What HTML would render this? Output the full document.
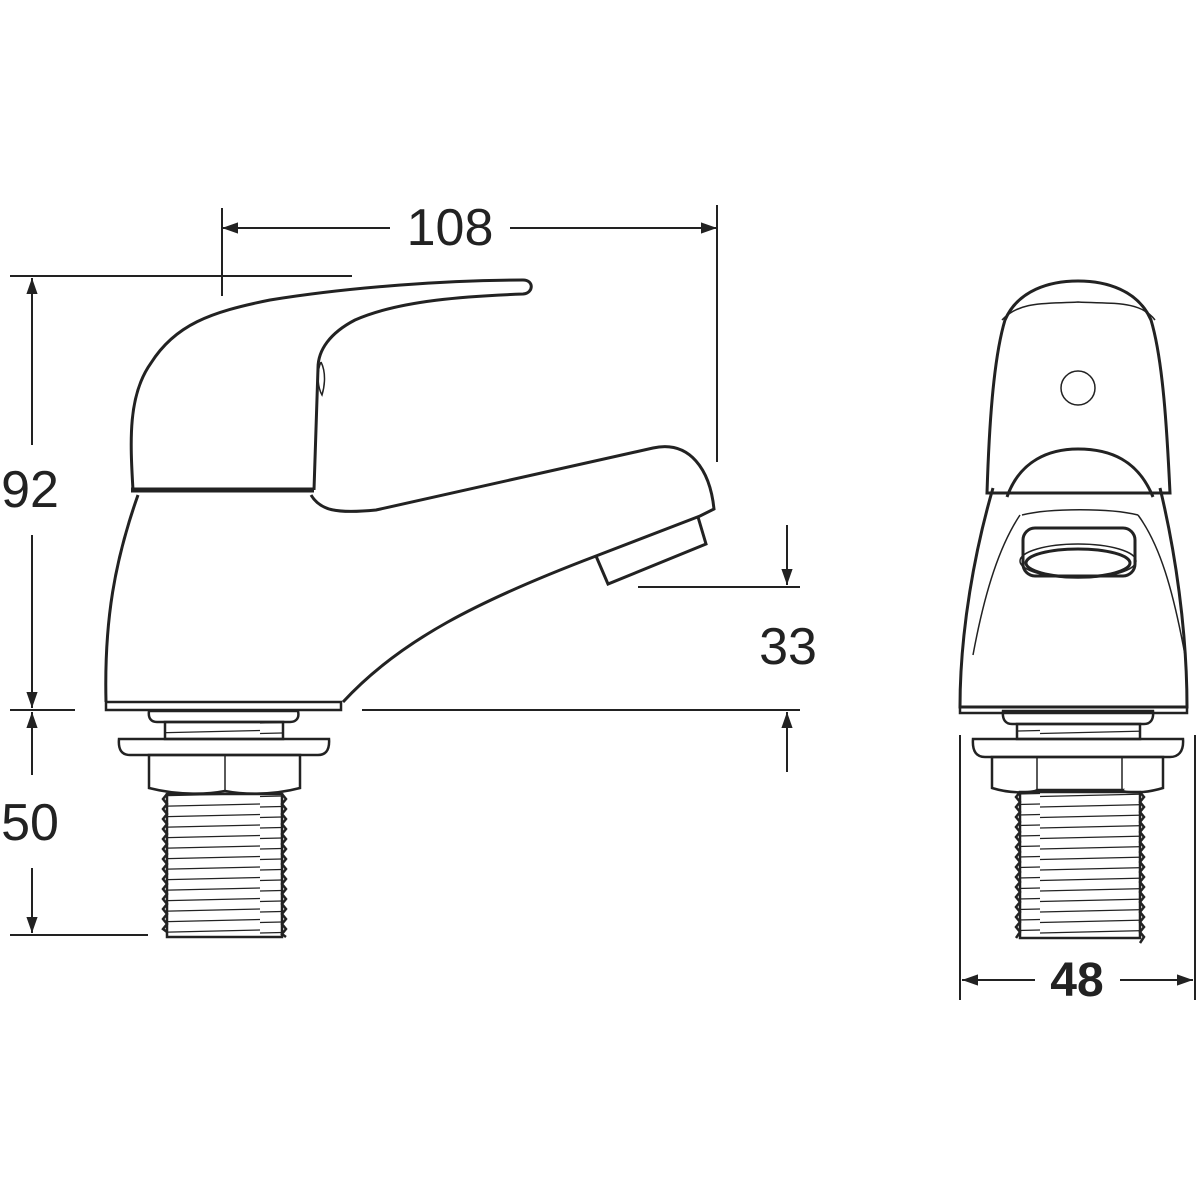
<!DOCTYPE html>
<html><head><style>body{margin:0;background:#fff}svg{display:block}</style></head><body>
<svg width="1200" height="1200" viewBox="0 0 1200 1200" xmlns="http://www.w3.org/2000/svg">
<defs>
<marker id="a" viewBox="0 0 10 10" refX="10" refY="5" markerWidth="16" markerHeight="16" markerUnits="userSpaceOnUse" orient="auto-start-reverse"><path d="M0,1.5 L10,5 L0,8.5 z" fill="#222"/></marker>
<pattern id="th" width="130" height="10.5" patternUnits="userSpaceOnUse"><line x1="0" y1="9" x2="130" y2="6" stroke="#222" stroke-width="1.3"/></pattern>
</defs>
<g fill="none" stroke="#222" stroke-width="2">
<line x1="222" y1="208" x2="222" y2="296"/>
<line x1="717" y1="205" x2="717" y2="462"/>
<line x1="222" y1="228" x2="390" y2="228" marker-start="url(#a)"/>
<line x1="510" y1="228" x2="717" y2="228" marker-end="url(#a)"/>
<line x1="10" y1="276" x2="352" y2="276"/>
<line x1="32" y1="278" x2="32" y2="445" marker-start="url(#a)"/>
<line x1="32" y1="535" x2="32" y2="708" marker-end="url(#a)"/>
<line x1="10" y1="710" x2="75" y2="710"/>
<line x1="32" y1="712" x2="32" y2="775" marker-start="url(#a)"/>
<line x1="32" y1="868" x2="32" y2="933" marker-end="url(#a)"/>
<line x1="10" y1="935" x2="148" y2="935"/>
<line x1="787" y1="525" x2="787" y2="585" marker-end="url(#a)"/>
<line x1="638" y1="587" x2="800" y2="587"/>
<line x1="362" y1="710" x2="800" y2="710"/>
<line x1="787" y1="772" x2="787" y2="712" marker-end="url(#a)"/>
<line x1="960" y1="735" x2="960" y2="1000"/>
<line x1="1195" y1="735" x2="1195" y2="1000"/>
<line x1="962" y1="980" x2="1035" y2="980" marker-start="url(#a)"/>
<line x1="1120" y1="980" x2="1193" y2="980" marker-end="url(#a)"/>

<g stroke-width="3">
<path d="M133,490 C130,440 128,395 151,363 C175,325 210,312 270,300 C350,287 450,280 523,280 C534,280 534,293 523,294 C470,296 400,300 355,320 C330,333 318,350 318,368 L314,490"/>
<path d="M131,490 L314,490" stroke-width="5"/>
<path d="M138,495 C115,560 104,620 106,702"/>
<path d="M311,495 C320,510 335,514 376,510 L653,448 C690,440 710,470 714,509 L700,516 L596,556 C480,600 400,640 343,702"/>
<path d="M596,556 L608,584 L706,544 L698,517"/>
<rect x="106" y="702" width="235" height="8" stroke-width="2.5"/>
</g>
<path d="M321,362 C316,373 318,388 322,395 C325,385 326,372 321,362" stroke-width="1.5"/>
<g stroke-width="2.5">
<path d="M149,711 L298,711 C300,720 294,722 290,722 L157,722 C151,722 148,718 149,711 Z"/>
<rect x="165" y="722" width="118" height="17" fill="url(#th)"/>
<path d="M119,739 L329,739 C330,752 324,755 318,755 L130,755 C122,755 118,750 119,739 Z"/>
<path d="M149,755 L300,755 L300,788 C270,796 240,794 225,791 C210,794 180,796 149,788 Z"/>
<line x1="225" y1="755" x2="225" y2="791" stroke-width="1.5"/>
<rect x="167" y="794" width="115" height="143" fill="url(#th)"/>
<path d="M167,794 l-4,5 4,5 -4,5 4,5 -4,5 4,5 -4,5 4,5 -4,5 4,5 -4,5 4,5 -4,5 4,5 -4,5 4,5 -4,5 4,5 -4,5 4,5 -4,5 4,5 -4,5 4,5 -4,5 4,5 -4,5 4,3"/>
<path d="M282,794 l4,5 -4,5 4,5 -4,5 4,5 -4,5 4,5 -4,5 4,5 -4,5 4,5 -4,5 4,5 -4,5 4,5 -4,5 4,5 -4,5 4,5 -4,5 4,5 -4,5 4,5 -4,5 4,5 -4,5 4,5 -4,5 4,3"/>
</g>

<g stroke-width="3">
<path d="M987,493 C989,430 993,360 1005,320 C1018,290 1050,281 1078,281 C1106,281 1138,290 1151,320 C1163,360 1167,430 1170,493 Z"/>
<path d="M993,488 C975,550 960,630 960,707 L1187,707 C1187,630 1175,550 1160,488"/>
<path d="M1007,497 C1020,460 1050,449 1078,449 C1110,449 1138,460 1153,497"/>
<rect x="960" y="707" width="227" height="6" stroke-width="2.5"/>
<rect x="1023" y="528" width="112" height="48" rx="12"/>
</g>
<g stroke-width="1.5">
<circle cx="1078" cy="388" r="17"/>
<path d="M1002,320 C1020,300 1050,304 1078,302 C1110,304 1140,300 1155,320"/>
<path d="M973,655 C985,590 1000,545 1020,515"/>
<path d="M1185,655 C1173,590 1160,545 1138,515"/>
<path d="M1022,515 C1050,508 1110,508 1138,515"/>
<ellipse cx="1078" cy="563" rx="52" ry="14" stroke-width="3"/>
<ellipse cx="1078" cy="561" rx="58" ry="17"/>
</g>
<g stroke-width="2.5">
<path d="M1003,711 L1153,711 C1154,720 1150,724 1144,724 L1012,724 C1006,724 1002,720 1003,711 Z"/>
<rect x="1017" y="724" width="123" height="15" fill="url(#th)"/>
<path d="M973,739 L1183,739 C1184,752 1178,757 1170,757 L985,757 C977,757 972,752 973,739 Z"/>
<path d="M992,757 L1163,757 L1163,788 C1140,795 1120,792 1122,790 L1037,790 C1035,792 1015,795 992,788 Z"/>
<line x1="1037" y1="757" x2="1037" y2="790" stroke-width="1.5"/>
<line x1="1122" y1="757" x2="1122" y2="790" stroke-width="1.5"/>
<rect x="1020" y="792" width="120" height="146" fill="url(#th)"/>
<path d="M1020,792 l-4,5 4,5 -4,5 4,5 -4,5 4,5 -4,5 4,5 -4,5 4,5 -4,5 4,5 -4,5 4,5 -4,5 4,5 -4,5 4,5 -4,5 4,5 -4,5 4,5 -4,5 4,5 -4,5 4,5 -4,5 4,5 -4,6"/>
<path d="M1140,792 l4,5 -4,5 4,5 -4,5 4,5 -4,5 4,5 -4,5 4,5 -4,5 4,5 -4,5 4,5 -4,5 4,5 -4,5 4,5 -4,5 4,5 -4,5 4,5 -4,5 4,5 -4,5 4,5 -4,5 4,5 -4,5 4,5 -4,6"/>
</g>
</g>
<g font-family="Liberation Sans, sans-serif" fill="#222" text-anchor="middle" font-size="52">
<text x="450" y="245">108</text>
<text x="30" y="507">92</text>
<text x="30" y="840">50</text>
<text x="788" y="664">33</text>
<text x="1077" y="996" font-weight="bold" font-size="48">48</text>
</g>
</svg>
</body></html>
